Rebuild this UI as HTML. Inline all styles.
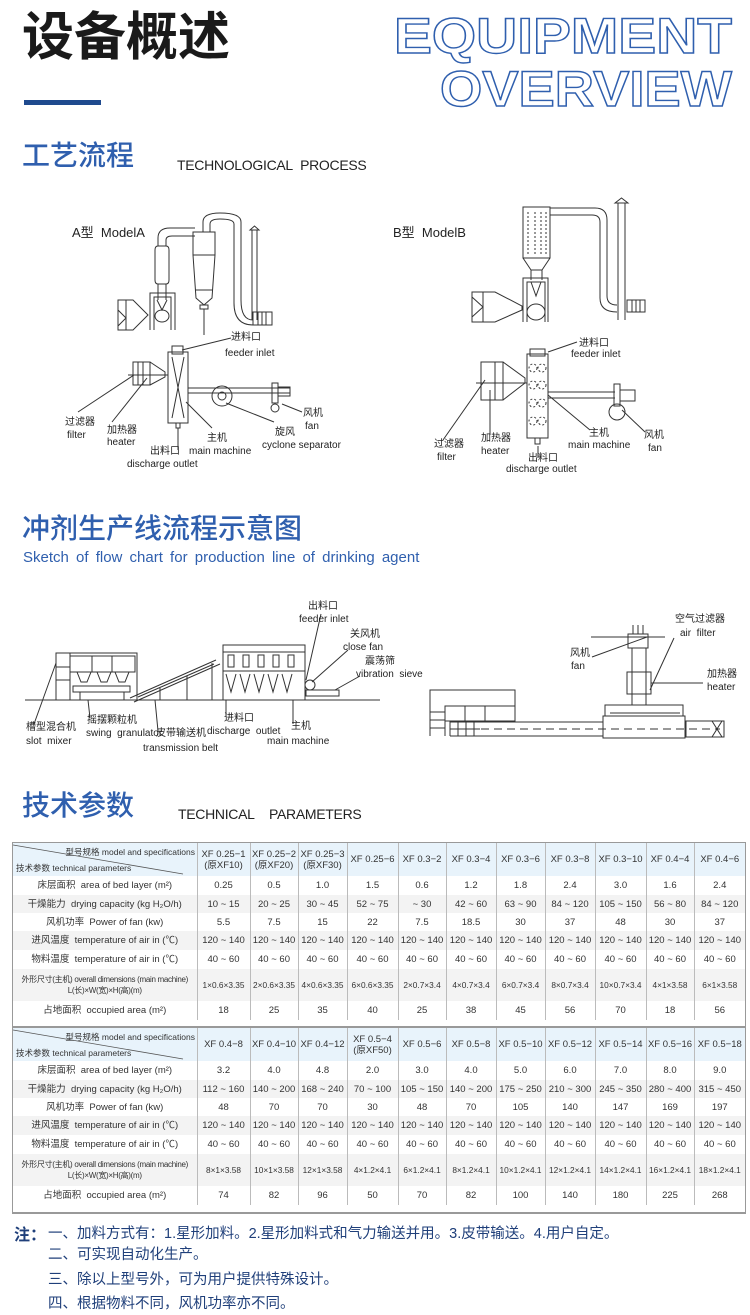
<!DOCTYPE html>
<html><head><meta charset="utf-8">
<style>
*{margin:0;padding:0;box-sizing:border-box}
body{width:750px;height:1315px;background:#fff;position:relative;overflow:hidden;font-family:"Liberation Sans","Noto Sans CJK SC",sans-serif;color:#222}
.a{position:absolute;white-space:nowrap}
.lb{font-size:10px;color:#222;line-height:12px}
.sec{font-size:28px;color:#2f5fae;font-weight:500}
table{border-collapse:collapse;table-layout:fixed;position:absolute;left:13px;font-size:9.5px;color:#333}
td{text-align:center;border-right:1px solid #bbb;padding:0;line-height:11px;overflow:hidden;white-space:nowrap}
td:last-child{border-right:none}
tr.h td{background:#e8f3fb}
tr.g td{background:#f3f3f3}
tr.d td{font-size:8.3px}
tr.d td:first-child{font-size:8px;letter-spacing:-0.3px}
.note{font-size:14.5px;color:#1f3f7a}
</style></head><body>

<div class="a" style="left:22px;top:8px;font-size:52px;font-weight:bold;color:#1a1a1a;line-height:60px">设备概述</div>
<div class="a" style="left:24px;top:100px;width:77px;height:5px;background:#1f4a8e"></div>
<svg class="a" style="left:380px;top:8px" width="370" height="105">
<text x="352" y="45" text-anchor="end" font-family="Liberation Sans" font-weight="bold" font-size="50" fill="none" stroke="#2f5fae" stroke-width="1.4" textLength="338" lengthAdjust="spacingAndGlyphs">EQUIPMENT</text>
<text x="352" y="98" text-anchor="end" font-family="Liberation Sans" font-weight="bold" font-size="50" fill="none" stroke="#2f5fae" stroke-width="1.4" textLength="292" lengthAdjust="spacingAndGlyphs">OVERVIEW</text>
</svg>

<div class="a sec" style="left:22px;top:138px;line-height:36px">工艺流程</div>
<div class="a" style="left:177px;top:157px;font-size:14px;letter-spacing:-0.3px">TECHNOLOGICAL&nbsp; PROCESS</div>

<div class="a" style="left:72px;top:222px;font-size:13px">A型&nbsp; ModelA</div>
<div class="a" style="left:393px;top:222px;font-size:13px">B型&nbsp; ModelB</div>

<svg class="a" style="left:0;top:0" width="750" height="800" fill="none" stroke="#333" stroke-width="1">
<path d="M118 300 L133 300 L148 315 L133 330 L118 330 Z M126 300 V330 M118 310 L126 318 L118 326"/>
<path d="M150 330 V293 H175 V330 M154 330 V297 H171 V330"/>
<ellipse cx="162" cy="316" rx="7" ry="6"/>
<path d="M157 300 L162 310 L167 300"/>
<path d="M155 250 Q155 246 158 246 H166 Q169 246 169 250 V280 Q169 284 166 284 H158 Q155 284 155 280 Z"/>
<path d="M158 284 V300 M166 284 V300 M158 246 V238 Q158 228 170 228 H195 M166 246 V240 Q166 236 172 236 H195"/>
<path d="M193 232 H215 V255 L212 298 L204 305 L196 298 L193 255 Z M193 255 H215 M195 290 H213 M200 305 H208 V309 H200 Z M204 309 V335"/>
<path d="M203 232 V222 Q203 213 220 213 Q241 213 241 222 V300 Q241 320 253 320 M210 232 V224 Q210 219 220 219 Q234 219 234 224 V303 Q234 325 253 325"/>
<path d="M252 320 V230 M257 320 V230 M250 230 L254.5 226 L259 230 Z"/>
<rect x="253" y="312" width="19" height="13"/><path d="M258 312 V325 M262 312 V325 M266 312 V325"/>
<rect x="133" y="362" width="17" height="23"/><path d="M138 362 V385 M143 362 V385 M150 362 L165 372 V377 L150 385 M128 375 H168"/>
<rect x="168" y="352" width="20" height="71"/><rect x="172" y="346" width="11" height="8"/>
<path d="M172 357 L184 418 M184 357 L172 418 M176 423 V428 H180 V423"/>
<path d="M188 388 H290 M188 393 H290"/>
<circle cx="222" cy="396" r="10"/><circle cx="222" cy="396" r="4"/>
<rect x="272" y="383" width="6" height="20"/><circle cx="275" cy="408" r="4"/><rect x="278" y="387" width="12" height="9"/>
<path d="M182 350 L231 338"/><path d="M78 412 L134 375"/><path d="M112 422 L147 378"/><path d="M178 428 V450"/><path d="M212 428 L186 402"/><path d="M274 422 L226 403"/><path d="M302 412 L282 404"/>
<rect x="523" y="207" width="27" height="51"/>
<path stroke-dasharray="2 2" d="M528 212 V255 M535 212 V255 M541 212 V255 M546 212 V255"/>
<path d="M523 258 L531 270 H542 L550 258 M531 270 V280 M542 270 V280"/>
<path d="M523 322 V278 H548 V322 M527 322 V282 H545 V322"/>
<path d="M531 282 L536 296 L541 282"/><ellipse cx="536" cy="312" rx="9" ry="8"/>
<path d="M472 292 H495 L522 306 V310 L495 322 H472 Z M483 292 V322 M472 297 L483 307 L472 317"/>
<path d="M550 208 H595 Q607 208 607 220 V296 Q607 305 617 305 M550 215 H592 Q600 215 600 222 V298 Q600 312 617 312"/>
<path d="M618 320 V203 M625 320 V203 M615 203 L621.5 198 L628 203 Z"/>
<rect x="627" y="300" width="18" height="12"/><path d="M632 300 V312 M636 300 V312 M640 300 V312"/>
<rect x="481" y="362" width="22" height="38"/><path d="M495 362 V400 M503 362 L525 378 V383 L503 400 M476 383 H527"/>
<rect x="527" y="354" width="21" height="84"/><rect x="530" y="349" width="15" height="7"/>
<g stroke-dasharray="2 2"><circle cx="533" cy="368" r="4"/><circle cx="542" cy="368" r="4"/><circle cx="533" cy="385" r="4"/><circle cx="542" cy="385" r="4"/><circle cx="533" cy="403" r="4"/><circle cx="542" cy="403" r="4"/><circle cx="533" cy="421" r="4"/><circle cx="542" cy="421" r="4"/></g>
<path d="M535 438 V444 H540 V438"/>
<path d="M548 392 H615 M548 398 H615"/>
<rect x="614" y="384" width="6" height="22"/><circle cx="617" cy="412" r="8"/><rect x="620" y="390" width="15" height="11"/>
<path d="M548 352 L577 342"/><path d="M443 440 L485 380"/><path d="M490 435 V390"/><path d="M538 446 V458"/><path d="M590 430 L548 395"/><path d="M645 432 L622 410"/>
<path d="M25 700 H380"/>
<rect x="56" y="653" width="81" height="47"/><path d="M56 667 H70 M56 680 H70 M70 653 V700 M70 656 H135 V672 H70 M92 656 V672 M112 656 V672"/>
<g><path d="M77 672 H91 L87 682 H81 Z M97 672 H111 L107 682 H101 Z M115 672 H129 L125 682 H119 Z"/>
<rect x="73" y="686" width="57" height="6"/><path d="M80 692 V700 M124 692 V700"/></g>
<path d="M130 698 L216 660 M134 702 L220 664 M138 697 L214 664" />
<path d="M212 663 V700 M160 688 V700 M187 676 V700"/>
<rect x="223" y="645" width="82" height="55"/><path d="M223 671 H305 M223 652 H305"/>
<g><rect x="228" y="655" width="6" height="12"/><rect x="243" y="655" width="6" height="12"/><rect x="258" y="655" width="6" height="12"/><rect x="273" y="655" width="6" height="12"/><rect x="288" y="655" width="6" height="12"/>
<path d="M226 674 L231 692 L236 674 M240 674 L245 692 L250 674 M254 674 L259 692 L264 674 M268 674 L273 692 L278 674 M282 674 L287 692 L292 674"/></g>
<circle cx="310" cy="685" r="5"/><rect x="306" y="690" width="33" height="6"/>
<path d="M321 614 L306 680 M348 650 L312 682 M360 676 L335 690 M34 724 L56 663 M90 718 L88 700 M158 731 L155 700 M226 716 V700 M293 724 V700"/>
<path d="M430 736 V690 H515 V712 M430 712 H445 M430 720 H445 M430 728 H445 M445 712 V736"/>
<rect x="445" y="706" width="70" height="15"/><path d="M465 706 V721 M485 706 V721"/>
<path d="M450 721 V736 M458 721 V736 M466 721 V736 M474 721 V736 M450 729 H480"/>
<path d="M450 722 H603 M450 736 H603"/><path stroke-dasharray="8 5" d="M455 729 H720"/>
<rect x="603" y="716" width="82" height="22"/><rect x="605" y="705" width="78" height="11"/><path d="M610 713 H680"/>
<rect x="632" y="648" width="14" height="57"/><rect x="627" y="672" width="24" height="22"/>
<rect x="628" y="634" width="20" height="14"/><path d="M633 625 V634 M638 625 V634 M643 625 V634 M591 637 H665"/>
<rect x="686" y="721" width="38" height="16"/><path d="M712 721 L722 737 M722 721 L712 737"/>
<path d="M650 690 L674 638 M647 637 L592 657 M651 683 H703"/>
</svg>

<div class="a lb" style="left:231px;top:332px">进料口</div><div class="a lb" style="left:225px;top:348px">feeder inlet</div>
<div class="a lb" style="left:65px;top:417px">过滤器</div><div class="a lb" style="left:67px;top:430px">filter</div>
<div class="a lb" style="left:107px;top:425px">加热器</div><div class="a lb" style="left:107px;top:437px">heater</div>
<div class="a lb" style="left:150px;top:446px">出料口</div><div class="a lb" style="left:127px;top:459px">discharge outlet</div>
<div class="a lb" style="left:207px;top:433px">主机</div><div class="a lb" style="left:189px;top:446px">main machine</div>
<div class="a lb" style="left:275px;top:427px">旋风</div><div class="a lb" style="left:262px;top:440px">cyclone separator</div>
<div class="a lb" style="left:303px;top:408px">风机</div><div class="a lb" style="left:305px;top:421px">fan</div>

<div class="a lb" style="left:579px;top:338px">进料口</div><div class="a lb" style="left:571px;top:349px">feeder inlet</div>
<div class="a lb" style="left:434px;top:439px">过滤器</div><div class="a lb" style="left:437px;top:452px">filter</div>
<div class="a lb" style="left:481px;top:433px">加热器</div><div class="a lb" style="left:481px;top:446px">heater</div>
<div class="a lb" style="left:528px;top:453px">出料口</div><div class="a lb" style="left:506px;top:464px">discharge outlet</div>
<div class="a lb" style="left:589px;top:428px">主机</div><div class="a lb" style="left:568px;top:440px">main machine</div>
<div class="a lb" style="left:644px;top:430px">风机</div><div class="a lb" style="left:648px;top:443px">fan</div>

<div class="a sec" style="left:22px;top:511px;line-height:36px">冲剂生产线流程示意图</div>
<div class="a" style="left:23px;top:549px;font-size:15px;color:#2f5fae;word-spacing:3px">Sketch of flow chart for production line of drinking agent</div>

<div class="a lb" style="left:308px;top:601px">出料口</div><div class="a lb" style="left:299px;top:614px">feeder inlet</div>
<div class="a lb" style="left:350px;top:629px">关风机</div><div class="a lb" style="left:343px;top:642px">close fan</div>
<div class="a lb" style="left:365px;top:656px">震荡筛</div><div class="a lb" style="left:356px;top:669px">vibration&nbsp; sieve</div>
<div class="a lb" style="left:26px;top:722px">槽型混合机</div><div class="a lb" style="left:26px;top:736px">slot&nbsp; mixer</div>
<div class="a lb" style="left:87px;top:715px">摇摆颗粒机</div><div class="a lb" style="left:86px;top:728px">swing&nbsp; granulator</div>
<div class="a lb" style="left:156px;top:728px">皮带输送机</div><div class="a lb" style="left:143px;top:743px">transmission belt</div>
<div class="a lb" style="left:224px;top:713px">进料口</div><div class="a lb" style="left:207px;top:726px">discharge&nbsp; outlet</div>
<div class="a lb" style="left:291px;top:721px">主机</div><div class="a lb" style="left:267px;top:736px">main machine</div>
<div class="a lb" style="left:675px;top:614px">空气过滤器</div><div class="a lb" style="left:680px;top:628px">air&nbsp; filter</div>
<div class="a lb" style="left:570px;top:648px">风机</div><div class="a lb" style="left:571px;top:661px">fan</div>
<div class="a lb" style="left:707px;top:669px">加热器</div><div class="a lb" style="left:707px;top:682px">heater</div>

<div class="a sec" style="left:22px;top:788px;line-height:36px">技术参数</div>
<div class="a" style="left:178px;top:806px;font-size:14px;letter-spacing:-0.3px">TECHNICAL&nbsp;&nbsp;&nbsp; PARAMETERS</div>

<div class="a" style="left:12px;top:842px;width:734px;height:186px;border:1px solid #999;border-bottom:2px solid #999"></div>
<div class="a" style="left:12px;top:1027px;width:734px;height:187px;border:1px solid #999;border-bottom:2px solid #999"></div>

<table style="top:843px;width:732px">
<colgroup><col style="width:184px"><col style="width:53px"><col style="width:48px"><col style="width:49px"><col style="width:51px"><col style="width:48px"><col style="width:50px"><col style="width:49px"><col style="width:50px"><col style="width:51px"><col style="width:48px"><col style="width:51px"></colgroup>
<tr class="h" style="height:33px"><td style="position:relative;background:#e8f3fb"><svg style="position:absolute;left:0;top:0" width="184" height="33"><line x1="0" y1="2" x2="170" y2="31" stroke="#555" stroke-width="0.8"/><text x="182" y="12" text-anchor="end" font-size="8.5" fill="#333" font-family="Liberation Sans,Noto Sans CJK SC">型号规格 model and specifications</text><text x="3" y="28" font-size="8.5" fill="#333" font-family="Liberation Sans,Noto Sans CJK SC">技术参数 technical parameters</text></svg></td><td>XF 0.25−1<br>(原XF10)</td><td>XF 0.25−2<br>(原XF20)</td><td>XF 0.25−3<br>(原XF30)</td><td>XF 0.25−6</td><td>XF 0.3−2</td><td>XF 0.3−4</td><td>XF 0.3−6</td><td>XF 0.3−8</td><td>XF 0.3−10</td><td>XF 0.4−4</td><td>XF 0.4−6</td></tr>
<tr style="height:19px"><td>床层面积&nbsp; area of bed layer (m²)</td><td>0.25</td><td>0.5</td><td>1.0</td><td>1.5</td><td>0.6</td><td>1.2</td><td>1.8</td><td>2.4</td><td>3.0</td><td>1.6</td><td>2.4</td></tr>
<tr class="g" style="height:18px"><td>干燥能力&nbsp; drying capacity (kg H₂O/h)</td><td>10 ~ 15</td><td>20 ~ 25</td><td>30 ~ 45</td><td>52 ~ 75</td><td>~ 30</td><td>42 ~ 60</td><td>63 ~ 90</td><td>84 ~ 120</td><td>105 ~ 150</td><td>56 ~ 80</td><td>84 ~ 120</td></tr>
<tr style="height:18px"><td>风机功率&nbsp; Power of fan (kw)</td><td>5.5</td><td>7.5</td><td>15</td><td>22</td><td>7.5</td><td>18.5</td><td>30</td><td>37</td><td>48</td><td>30</td><td>37</td></tr>
<tr class="g" style="height:19px"><td>进风温度&nbsp; temperature of air in (℃)</td><td>120 ~ 140</td><td>120 ~ 140</td><td>120 ~ 140</td><td>120 ~ 140</td><td>120 ~ 140</td><td>120 ~ 140</td><td>120 ~ 140</td><td>120 ~ 140</td><td>120 ~ 140</td><td>120 ~ 140</td><td>120 ~ 140</td></tr>
<tr style="height:19px"><td>物料温度&nbsp; temperature of air in (℃)</td><td>40 ~ 60</td><td>40 ~ 60</td><td>40 ~ 60</td><td>40 ~ 60</td><td>40 ~ 60</td><td>40 ~ 60</td><td>40 ~ 60</td><td>40 ~ 60</td><td>40 ~ 60</td><td>40 ~ 60</td><td>40 ~ 60</td></tr>
<tr class="g d" style="height:32px"><td>外形尺寸(主机) overall dimensions (main machine)<br>L(长)×W(宽)×H(高)(m)</td><td>1×0.6×3.35</td><td>2×0.6×3.35</td><td>4×0.6×3.35</td><td>6×0.6×3.35</td><td>2×0.7×3.4</td><td>4×0.7×3.4</td><td>6×0.7×3.4</td><td>8×0.7×3.4</td><td>10×0.7×3.4</td><td>4×1×3.58</td><td>6×1×3.58</td></tr>
<tr style="height:19px"><td>占地面积&nbsp; occupied area (m²)</td><td>18</td><td>25</td><td>35</td><td>40</td><td>25</td><td>38</td><td>45</td><td>56</td><td>70</td><td>18</td><td>56</td></tr>
</table>

<table style="top:1028px;width:732px">
<colgroup><col style="width:184px"><col style="width:53px"><col style="width:48px"><col style="width:49px"><col style="width:51px"><col style="width:48px"><col style="width:50px"><col style="width:49px"><col style="width:50px"><col style="width:51px"><col style="width:48px"><col style="width:51px"></colgroup>
<tr class="h" style="height:33px"><td style="position:relative;background:#e8f3fb"><svg style="position:absolute;left:0;top:0" width="184" height="33"><line x1="0" y1="2" x2="170" y2="31" stroke="#555" stroke-width="0.8"/><text x="182" y="12" text-anchor="end" font-size="8.5" fill="#333" font-family="Liberation Sans,Noto Sans CJK SC">型号规格 model and specifications</text><text x="3" y="28" font-size="8.5" fill="#333" font-family="Liberation Sans,Noto Sans CJK SC">技术参数 technical parameters</text></svg></td><td>XF 0.4−8</td><td>XF 0.4−10</td><td>XF 0.4−12</td><td>XF 0.5−4<br>(原XF50)</td><td>XF 0.5−6</td><td>XF 0.5−8</td><td>XF 0.5−10</td><td>XF 0.5−12</td><td>XF 0.5−14</td><td>XF 0.5−16</td><td>XF 0.5−18</td></tr>
<tr style="height:19px"><td>床层面积&nbsp; area of bed layer (m²)</td><td>3.2</td><td>4.0</td><td>4.8</td><td>2.0</td><td>3.0</td><td>4.0</td><td>5.0</td><td>6.0</td><td>7.0</td><td>8.0</td><td>9.0</td></tr>
<tr class="g" style="height:18px"><td>干燥能力&nbsp; drying capacity (kg H₂O/h)</td><td>112 ~ 160</td><td>140 ~ 200</td><td>168 ~ 240</td><td>70 ~ 100</td><td>105 ~ 150</td><td>140 ~ 200</td><td>175 ~ 250</td><td>210 ~ 300</td><td>245 ~ 350</td><td>280 ~ 400</td><td>315 ~ 450</td></tr>
<tr style="height:18px"><td>风机功率&nbsp; Power of fan (kw)</td><td>48</td><td>70</td><td>70</td><td>30</td><td>48</td><td>70</td><td>105</td><td>140</td><td>147</td><td>169</td><td>197</td></tr>
<tr class="g" style="height:19px"><td>进风温度&nbsp; temperature of air in (℃)</td><td>120 ~ 140</td><td>120 ~ 140</td><td>120 ~ 140</td><td>120 ~ 140</td><td>120 ~ 140</td><td>120 ~ 140</td><td>120 ~ 140</td><td>120 ~ 140</td><td>120 ~ 140</td><td>120 ~ 140</td><td>120 ~ 140</td></tr>
<tr style="height:19px"><td>物料温度&nbsp; temperature of air in (℃)</td><td>40 ~ 60</td><td>40 ~ 60</td><td>40 ~ 60</td><td>40 ~ 60</td><td>40 ~ 60</td><td>40 ~ 60</td><td>40 ~ 60</td><td>40 ~ 60</td><td>40 ~ 60</td><td>40 ~ 60</td><td>40 ~ 60</td></tr>
<tr class="g d" style="height:32px"><td>外形尺寸(主机) overall dimensions (main machine)<br>L(长)×W(宽)×H(高)(m)</td><td>8×1×3.58</td><td>10×1×3.58</td><td>12×1×3.58</td><td>4×1.2×4.1</td><td>6×1.2×4.1</td><td>8×1.2×4.1</td><td>10×1.2×4.1</td><td>12×1.2×4.1</td><td>14×1.2×4.1</td><td>16×1.2×4.1</td><td>18×1.2×4.1</td></tr>
<tr style="height:19px"><td>占地面积&nbsp; occupied area (m²)</td><td>74</td><td>82</td><td>96</td><td>50</td><td>70</td><td>82</td><td>100</td><td>140</td><td>180</td><td>225</td><td>268</td></tr>
</table>

<div class="a note" style="left:14px;top:1221px;font-size:16px;font-weight:bold">注：</div>
<div class="a note" style="left:48px;top:1222px">一、加料方式有：1.星形加料。2.星形加料式和气力输送并用。3.皮带输送。4.用户自定。</div>
<div class="a note" style="left:48px;top:1243px">二、可实现自动化生产。</div>
<div class="a note" style="left:48px;top:1268px">三、除以上型号外，可为用户提供特殊设计。</div>
<div class="a note" style="left:48px;top:1292px">四、根据物料不同，风机功率亦不同。</div>
</body></html>
